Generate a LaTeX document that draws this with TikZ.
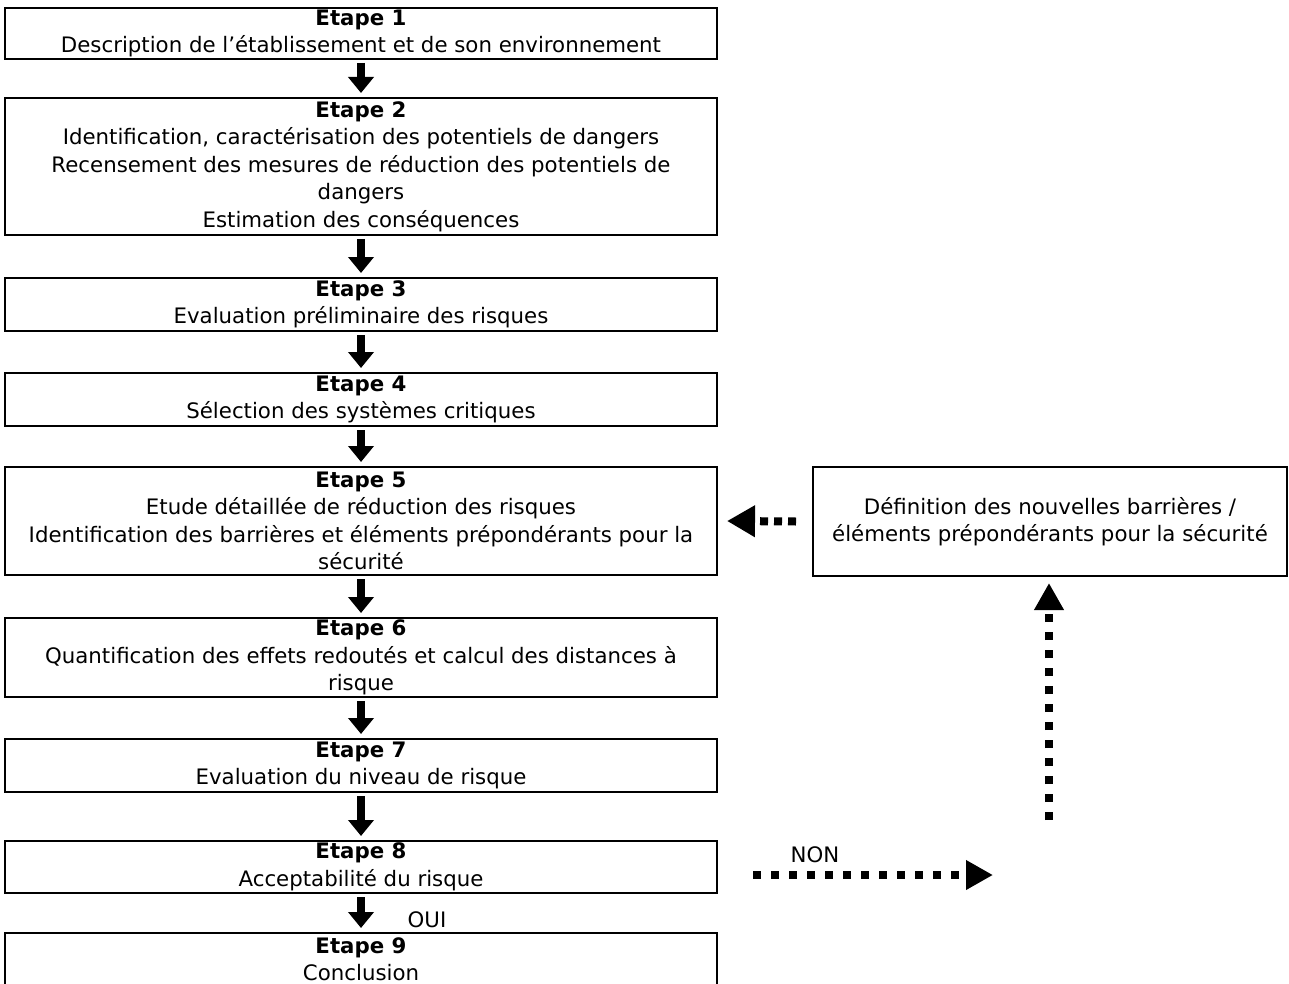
\documentclass[tikz,border=0pt]{standalone}
\usepackage{fontspec}
\setmainfont{DejaVu Sans}
\usetikzlibrary{arrows.meta}

\begin{document}
\begin{tikzpicture}[
    x=1pt, y=-1pt,
    every node/.style={font=\fontsize{21.3}{27.5}\selectfont},
    etape/.style={
        rectangle,
        draw,
        line width=2pt,
        align=center,
        inner sep=0pt,
        minimum width=712pt
    },
    fleche/.style={line width=8pt, -{Triangle[width=25pt,length=16pt]}},
    boucle/.style={line width=8pt, dash pattern=on 8pt off 10pt, -{Triangle[width=28pt,length=27pt]}}
]
\useasboundingbox (0,0) rectangle (1289,984);

% Steps of the study
\node[etape, minimum height=51pt] (e1) at (361,33.5) {
    \textbf{Etape 1} \\
    Description de l’établissement et de son environnement
};
\node[etape, minimum height=137pt] (e2) at (361,166.5) {
    \textbf{Etape 2} \\
    Identification, caractérisation des potentiels de dangers \\
    Recensement des mesures de réduction des potentiels de \\
    dangers \\
    Estimation des conséquences
};
\node[etape, minimum height=53pt] (e3) at (361,304.5) {
    \textbf{Etape 3} \\
    Evaluation préliminaire des risques
};
\node[etape, minimum height=53pt] (e4) at (361,399.5) {
    \textbf{Etape 4} \\
    Sélection des systèmes critiques
};
\node[etape, minimum height=108pt] (e5) at (361,521) {
    \textbf{Etape 5} \\
    Etude détaillée de réduction des risques \\
    Identification des barrières et éléments prépondérants pour la \\
    sécurité
};
\node[etape, minimum height=79pt] (e6) at (361,657.5) {
    \textbf{Etape 6} \\
    Quantification des effets redoutés et calcul des distances à \\
    risque
};
\node[etape, minimum height=53pt] (e7) at (361,765.5) {
    \textbf{Etape 7} \\
    Evaluation du niveau de risque
};
\node[etape, minimum height=52pt] (e8) at (361,867) {
    \textbf{Etape 8} \\
    Acceptabilité du risque
};
\node[etape, minimum height=52pt] (e9) at (361,959) {
    \textbf{Etape 9} \\
    Conclusion
};

% New barriers box
\node[etape, minimum width=474pt, minimum height=109pt] (barr) at (1050,521.5) {
    Définition des nouvelles barrières / \\
    éléments prépondérants pour la sécurité
};

% Main chain
\foreach \a/\b in {e1/e2, e2/e3, e3/e4, e4/e5, e5/e6, e6/e7, e7/e8, e8/e9}
    \draw[fleche] ([yshift=-3pt]\a.south) -- ([yshift=4pt]\b.north);
\node (oui) at (427,920) {OUI};

% Loop back when the risk is not acceptable
\coordinate (nonA) at (753,875);
\coordinate (nonB) at (993,875);
\coordinate (montee) at (1049,820);
\draw[boucle] (nonA) -- (nonB);
\node (non) at (815,855) {NON};
\draw[boucle] (montee) -- ([yshift=-6pt]barr.south -| montee);
\draw[boucle, dash pattern=on 8pt off 6pt, -{Triangle[width=30pt,length=28pt]}]
    ([xshift=-16pt]barr.west) -- ([xshift=9pt]e5.east);

\end{tikzpicture}
\end{document}
